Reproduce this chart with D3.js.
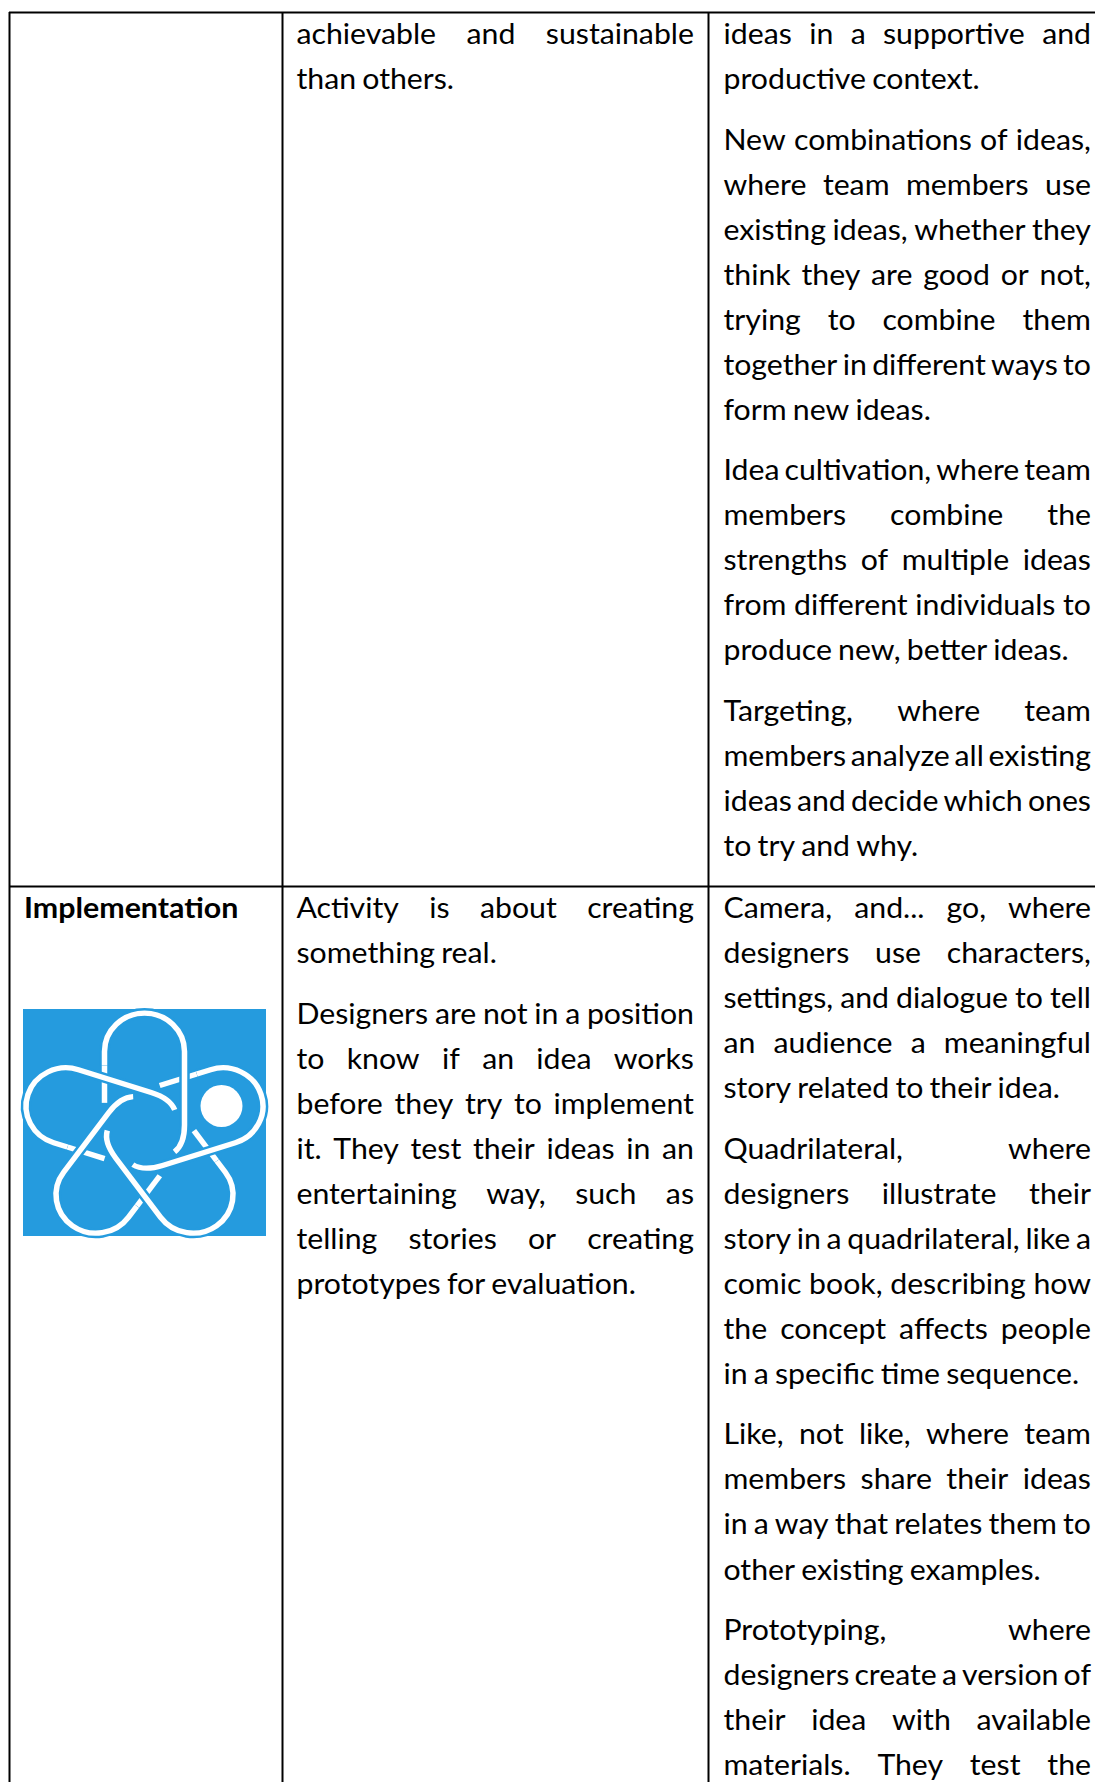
<!DOCTYPE html>
<html>
<head>
<meta charset="utf-8">
<script src="https://cdn.jsdelivr.net/npm/d3@7"></script>
<style>
  html, body { margin: 0; padding: 0; background: #fff; }
  svg { display: block; }
</style>
</head>
<body>
<div id="chart"></div>
<script>
// table content, one string per printed line, grouped in paragraphs
const stageTitle = "Implementation";

const activityTop = [
    ["achievable and sustainable", "than others."]
];

const methodsTop = [
    ["ideas in a supportive and", "productive context."],
    ["New combinations of ideas,", "where team members use", "existing ideas, whether they", "think they are good or not,", "trying to combine them", "together in different ways to", "form new ideas."],
    ["Idea cultivation, where team", "members combine the", "strengths of multiple ideas", "from different individuals to", "produce new, better ideas."],
    ["Targeting, where team", "members analyze all existing", "ideas and decide which ones", "to try and why."]
];

const activityBottom = [
    ["Activity is about creating", "something real."],
    ["Designers are not in a position", "to know if an idea works", "before they try to implement", "it. They test their ideas in an", "entertaining way, such as", "telling stories or creating", "prototypes for evaluation."]
];

const methodsBottom = [
    ["Camera, and... go, where", "designers use characters,", "settings, and dialogue to tell", "an audience a meaningful", "story related to their idea."],
    ["Quadrilateral, where", "designers illustrate their", "story in a quadrilateral, like a", "comic book, describing how", "the concept affects people", "in a specific time sequence."],
    ["Like, not like, where team", "members share their ideas", "in a way that relates them to", "other existing examples."],
    ["Prototyping, where", "designers create a version of", "their idea with available", "materials. They test the"]
];

const width = 1095, height = 1782;
const fontSize = 28, squeeze = 1.08;
const lineStep = 45.05, paraStep = 15.4;
const lineColor = "#000";

const svg = d3.select("#chart").append("svg")
    .attr("width", width)
    .attr("height", height)
    .attr("viewBox", [0, 0, width, height]);

svg.append("rect").attr("width", width).attr("height", height).attr("fill", "#fff");

// column edges
const columns = { activity: [296.5, 694], methods: [723.5, 1091] };

// draw a block of paragraphs, spacing the words out like justified text
function drawCell(paragraphs, col, firstBaseline, openEnded) {
    const g = svg.append("g").attr("font-family", "Lato").attr("font-size", fontSize).attr("fill", "#000");
    const [x0, x1] = columns[col];
    let lineNo = 0;

    paragraphs.forEach((lines, p) => {
        lines.forEach((line, i) => {
            const y = firstBaseline + lineNo * lineStep + p * paraStep;
            const isLast = i === lines.length - 1 && !(openEnded && p === paragraphs.length - 1);
            const words = line.split(" ");

            const nodes = words.map(w => g.append("text").text(w));
            const widths = nodes.map(n => n.node().getComputedTextLength() * squeeze);
            const total = d3.sum(widths);
            const gap = isLast ? fontSize * 0.22 : (x1 - x0 - total) / (words.length - 1);

            let x = x0;
            nodes.forEach((n, k) => {
                n.attr("transform", `translate(${x},${y}) scale(${squeeze},1)`);
                x += widths[k] + gap;
            });
            lineNo++;
        });
    });
}

drawCell(activityTop, "activity", 44, false);
drawCell(methodsTop, "methods", 44, false);
drawCell(activityBottom, "activity", 918, false);
drawCell(methodsBottom, "methods", 918, true);

svg.append("text")
    .attr("transform", "translate(24,918) scale(1.085,1)")
    .attr("font-family", "Lato")
    .attr("font-weight", 700)
    .attr("font-size", fontSize)
    .attr("fill", "#000")
    .text(stageTitle);

// table rules
const rules = svg.append("g").attr("stroke", lineColor).attr("stroke-width", 2);
[9.5, 282.5, 708.5].forEach(x => {
    rules.append("line").attr("x1", x).attr("x2", x).attr("y1", 12).attr("y2", height);
});
[12.5, 886.5].forEach(y => {
    rules.append("line").attr("x1", 9).attr("x2", width).attr("y1", y).attr("y2", y);
});

// logo: five capsules in a pinwheel, each one passing under its neighbour
const logoBlue = "#259BDE";
const logo = svg.append("g");
logo.append("rect").attr("x", 23).attr("y", 1009).attr("width", 243).attr("height", 227).attr("fill", logoBlue);

const cap = 40, capCentre = -82.5;

const underPart = d3.path();
underPart.moveTo(-cap, -29);
underPart.lineTo(-cap, -68);

const overPart = d3.path();
overPart.moveTo(-cap, -68);
overPart.lineTo(-cap, capCentre);
overPart.arc(0, capCentre, cap, Math.PI, 0);
overPart.lineTo(cap, -6);
overPart.quadraticCurveTo(cap, 14, 30, 22);

// the logo is printed a little squashed, hence the y scale
const logoCenter = logo.append("g")
    .attr("transform", "translate(144.5,1130.7) scale(1,0.96)")
    .attr("fill", "none");
const turns = d3.range(5).map(i => i * 72);

logoCenter.selectAll(".under").data(turns).enter().append("path")
    .attr("class", "under")
    .attr("transform", d => `rotate(${d})`)
    .attr("d", underPart.toString())
    .attr("stroke", "#fff")
    .attr("stroke-width", 5.5);

logoCenter.selectAll(".halo").data(turns).enter().append("path")
    .attr("class", "halo")
    .attr("transform", d => `rotate(${d})`)
    .attr("d", overPart.toString())
    .attr("stroke", logoBlue)
    .attr("stroke-width", 10.5);

logoCenter.selectAll(".over").data(turns).enter().append("path")
    .attr("class", "over")
    .attr("transform", d => `rotate(${d})`)
    .attr("d", overPart.toString())
    .attr("stroke", "#fff")
    .attr("stroke-width", 5.5);

logo.append("circle").attr("cx", 221.5).attr("cy", 1106).attr("r", 21).attr("fill", "#fff");
</script>
</body>
</html>
